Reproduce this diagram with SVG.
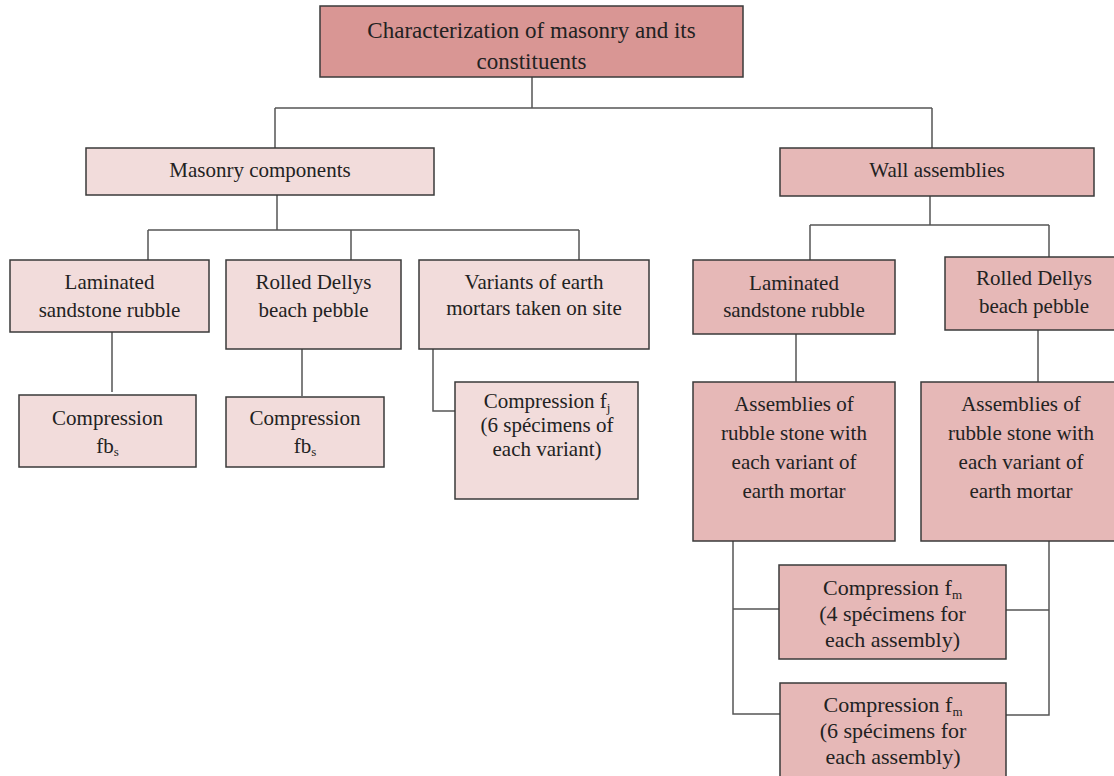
<svg xmlns="http://www.w3.org/2000/svg" width="1114" height="776" viewBox="0 0 1114 776">
<style>
.box{stroke:#3a3a3a;stroke-width:1.5}
.top{fill:#d99694}
.lt{fill:#f2dcdb}
.md{fill:#e6b8b7}
.t{font-family:"Liberation Serif",serif;font-size:21px;fill:#222;text-anchor:middle}
.tt{font-size:23px}
.tm{font-size:22px}
.sub{font-size:13px}
.c{fill:none;stroke:#555;stroke-width:1.5}
</style>
<rect width="1114" height="776" fill="#fff"/>
<g id="connectors">
<path class="c" d="M532 77V108M275 108H932M275 108V148M932 108V148"/>
<path class="c" d="M277 195V230M148 230H579M148 230V260M351 230V260M579 230V260"/>
<path class="c" d="M112 332V392M302 349V396M433 349V411H455"/>
<path class="c" d="M930 196V225M810 225H1049M810 225V260M1049 225V257"/>
<path class="c" d="M796 334V382M1038 330V382"/>
<path class="c" d="M733 541V714H780M733 609H779M1049 541V715H1006M1049 610H1006"/>
</g>
<g id="n-root">
<rect class="box top" x="320" y="6" width="423" height="71"/>
<text class="t tt" x="531.5" y="38">Characterization of masonry and its</text>
<text class="t tt" x="531.5" y="69">constituents</text>
</g>
<g id="n-masonry">
<rect class="box lt" x="86" y="148" width="348" height="47"/>
<text class="t" x="260" y="177">Masonry components</text>
</g>
<g id="n-wall">
<rect class="box md" x="780" y="148" width="314" height="48"/>
<text class="t" x="937" y="177">Wall assemblies</text>
</g>
<g id="n-lam-l">
<rect class="box lt" x="10" y="260" width="199" height="72"/>
<text class="t" x="109.5" y="289">Laminated</text>
<text class="t" x="109.5" y="317">sandstone rubble</text>
</g>
<g id="n-rol-l">
<rect class="box lt" x="226" y="260" width="175" height="89"/>
<text class="t" x="313.5" y="289">Rolled Dellys</text>
<text class="t" x="313.5" y="317">beach pebble</text>
</g>
<g id="n-var">
<rect class="box lt" x="419" y="260" width="230" height="89"/>
<text class="t" x="534" y="289">Variants of earth</text>
<text class="t" x="534" y="315">mortars taken on site</text>
</g>
<g id="n-fb1">
<rect class="box lt" x="19" y="395" width="177" height="72"/>
<text class="t" x="107.5" y="425">Compression</text>
<text class="t" x="107.5" y="453">fb<tspan class="sub" dy="3">s</tspan></text>
</g>
<g id="n-fb2">
<rect class="box lt" x="226" y="397" width="158" height="70"/>
<text class="t" x="305" y="425">Compression</text>
<text class="t" x="305" y="453">fb<tspan class="sub" dy="3">s</tspan></text>
</g>
<g id="n-fj">
<rect class="box lt" x="455" y="382" width="183" height="117"/>
<text class="t" x="547" y="408">Compression f<tspan class="sub" dy="4">j</tspan></text>
<text class="t" x="547" y="432">(6 spécimens of</text>
<text class="t" x="547" y="456">each variant)</text>
</g>
<g id="n-lam-r">
<rect class="box md" x="693" y="260" width="202" height="74"/>
<text class="t" x="794" y="290">Laminated</text>
<text class="t" x="794" y="317">sandstone rubble</text>
</g>
<g id="n-rol-r">
<rect class="box md" x="945" y="257" width="178" height="73"/>
<text class="t" x="1034" y="285">Rolled Dellys</text>
<text class="t" x="1034" y="313">beach pebble</text>
</g>
<g id="n-asm-l">
<rect class="box md" x="693" y="382" width="202" height="159"/>
<text class="t" x="794" y="411">Assemblies of</text>
<text class="t" x="794" y="440">rubble stone with</text>
<text class="t" x="794" y="469">each variant of</text>
<text class="t" x="794" y="498">earth mortar</text>
</g>
<g id="n-asm-r">
<rect class="box md" x="921" y="382" width="202" height="159"/>
<text class="t" x="1021" y="411">Assemblies of</text>
<text class="t" x="1021" y="440">rubble stone with</text>
<text class="t" x="1021" y="469">each variant of</text>
<text class="t" x="1021" y="498">earth mortar</text>
</g>
<g id="n-fm4">
<rect class="box md" x="779" y="565" width="227" height="94"/>
<text class="t tm" x="892.5" y="595">Compression f<tspan class="sub" dy="4">m</tspan></text>
<text class="t tm" x="892.5" y="621">(4 spécimens for</text>
<text class="t tm" x="892.5" y="647">each assembly)</text>
</g>
<g id="n-fm6">
<rect class="box md" x="780" y="683" width="226" height="100"/>
<text class="t tm" x="893" y="712">Compression f<tspan class="sub" dy="4">m</tspan></text>
<text class="t tm" x="893" y="738">(6 spécimens for</text>
<text class="t tm" x="893" y="764">each assembly)</text>
</g>
</svg>
